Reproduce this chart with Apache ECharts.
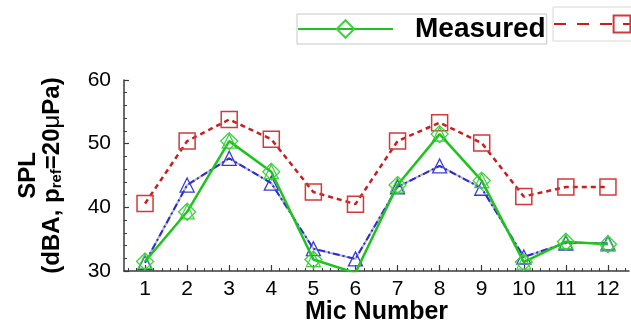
<!DOCTYPE html>
<html>
<head>
<meta charset="utf-8">
<script src="https://cdn.jsdelivr.net/npm/echarts@6/dist/echarts.min.js"></script>
<style>
  html, body { margin: 0; padding: 0; background: #fff; }
  #chart { width: 631px; height: 322px; }
</style>
</head>
<body>
<div id="chart"></div>
<script>
// ---- data ----
var micNumbers = ['1','2','3','4','5','6','7','8','9','10','11','12'];
var measured  = [31.5, 39.3, 50.4, 45.6, 31.8, 29.7, 43.5, 51.5, 44.2, 31.4, 34.6, 34.2];
var predicted = [40.6, 50.4, 53.8, 50.7, 42.4, 40.5, 50.4, 53.3, 50.1, 41.7, 43.2, 43.2];
var predicted2 = [31.3, 43.5, 47.7, 43.8, 33.5, 31.9, 43.2, 46.5, 43.0, 32.2, 34.4, 34.4];
var yTicks = { min: 30, max: 60, step: 10 };
var minorSteps = 5; // minor ticks per mic spacing

// minor tick categories for the x axis (0.6, 0.8, ... 12.4)
var minorCats = [];
for (var i = 0; i < micNumbers.length * minorSteps; i++) {
  minorCats.push(String(i));
}

var FONT = '"Liberation Sans", Arial, Helvetica, sans-serif';
var green = '#1ec31e', greenMk = '#3fcf3f';
var red = '#c81e1e', redMk = '#d03a3a';
var blue = '#2b2bd2', blueMk = '#3a3ad8';

var chart = echarts.init(document.getElementById('chart'), null, { renderer: 'canvas' });

chart.setOption({
  backgroundColor: '#ffffff',
  animation: false,
  textStyle: { fontFamily: FONT },
  legend: [
    {
      data: ['Measured'],
      left: 297, top: 14,
      orient: 'horizontal',
      selectedMode: false,
      itemWidth: 95, itemHeight: 22,
      padding: [1, 1, 1, 0],
      borderColor: '#c8c8c8', borderWidth: 1,
      textStyle: { fontSize: 28, fontWeight: 'bold', color: '#000', fontFamily: FONT,
                   lineHeight: 22, padding: [0, 0, 0, 17] }
    },
    {
      data: ['Predicted'],
      left: 553, top: 7,
      orient: 'horizontal',
      selectedMode: false,
      width: 1000,
      itemWidth: 136, itemHeight: 21,
      padding: [3, 1, 3, 0],
      borderColor: '#d8d8d8', borderWidth: 1,
      lineStyle: { type: [12, 11] },
      textStyle: { fontSize: 28, fontWeight: 'bold', color: '#000', fontFamily: FONT,
                   lineHeight: 21, padding: [0, 0, 0, 18] }
    }
  ],
  grid: { left: 124, right: 2, top: 80, bottom: 51, containLabel: false, outerBoundsMode: 'none' },
  xAxis: [
    {
      type: 'category',
      data: micNumbers,
      boundaryGap: true,
      name: 'Mic Number',
      nameLocation: 'middle',
      nameGap: 29,
      nameMoveOverlap: false,
      nameTextStyle: { fontSize: 25, fontWeight: 'bold', color: '#000', fontFamily: FONT, lineHeight: 24 },
      axisLine: { show: true, lineStyle: { color: '#3a3a3a', width: 1.5 } },
      axisTick: { show: true, inside: true, alignWithLabel: true, interval: 0, length: 6,
                  lineStyle: { color: '#3a3a3a', width: 1.2 } },
      axisLabel: { interval: 0, fontSize: 21, color: '#000', margin: 8, fontFamily: FONT },
      splitLine: { show: false }
    },
    {
      type: 'category',
      data: minorCats,
      boundaryGap: true,
      position: 'bottom',
      axisLine: { show: false },
      axisTick: { show: true, inside: true, alignWithLabel: true, interval: 0, length: 3,
                  lineStyle: { color: '#3a3a3a', width: 1 } },
      axisLabel: { show: false },
      splitLine: { show: false }
    }
  ],
  yAxis: {
    type: 'value',
    min: yTicks.min, max: yTicks.max, interval: yTicks.step,
    name: '{b|SPL}\n{b|(dBA, p}{s|ref}{b|=20}{m|μ}{b|Pa)}',
    nameLocation: 'middle',
    nameRotate: 90,
    nameGap: 60,
    nameMoveOverlap: false,
    nameTextStyle: {
      color: '#000',
      rich: {
        b: { fontSize: 24, fontWeight: 'bold', fontFamily: FONT, color: '#000', lineHeight: 24, verticalAlign: 'top' },
        m: { fontSize: 24, fontFamily: FONT, color: '#000', lineHeight: 24, verticalAlign: 'top' },
        s: { fontSize: 15, fontWeight: 'bold', fontFamily: FONT, color: '#000', lineHeight: 14, verticalAlign: 'bottom' }
      }
    },
    axisLine: { show: true, lineStyle: { color: '#3a3a3a', width: 1.5 } },
    axisTick: { show: true, inside: true, length: 5, lineStyle: { color: '#3a3a3a', width: 1.2 } },
    minorTick: { show: true, splitNumber: minorSteps, length: 3, lineStyle: { color: '#3a3a3a', width: 1 } },
    axisLabel: { fontSize: 21, color: '#000', margin: 13, fontFamily: FONT },
    splitLine: { show: false },
    minorSplitLine: { show: false }
  },
  series: [
    {
      name: 'Predicted',
      type: 'line',
      data: predicted,
      symbol: 'rect',
      symbolSize: 16,
      itemStyle: { color: 'rgba(255,255,255,0)', borderColor: redMk, borderWidth: 1.5 },
      lineStyle: { color: red, width: 2.5, type: [5, 4] },
      z: 2
    },
    {
      name: 'PredGrey',
      type: 'line',
      data: predicted2,
      symbol: 'none',
      lineStyle: { color: '#b4b4c8', width: 2, type: 'solid' },
      z: 2
    },
    {
      name: 'Predicted 2',
      type: 'line',
      data: predicted2,
      symbol: 'triangle',
      symbolSize: 14,
      itemStyle: { color: 'rgba(255,255,255,0)', borderColor: blueMk, borderWidth: 1.3 },
      lineStyle: { color: blue, width: 2, type: [7, 3, 2, 3] },
      z: 3
    },
    {
      name: 'MeasuredTri',
      type: 'line',
      data: measured,
      symbol: 'triangle',
      symbolSize: 14,
      lineStyle: { width: 0, opacity: 0 },
      itemStyle: { color: 'rgba(255,255,255,0)', borderColor: greenMk, borderWidth: 1.2 },
      z: 4
    },
    {
      name: 'Measured',
      type: 'line',
      data: measured,
      symbol: 'diamond',
      symbolSize: 17,
      itemStyle: { color: 'rgba(255,255,255,0)', borderColor: greenMk, borderWidth: 1.3 },
      lineStyle: { color: green, width: 2.5, type: 'solid' },
      z: 5
    }
  ]
});
</script>
</body>
</html>
